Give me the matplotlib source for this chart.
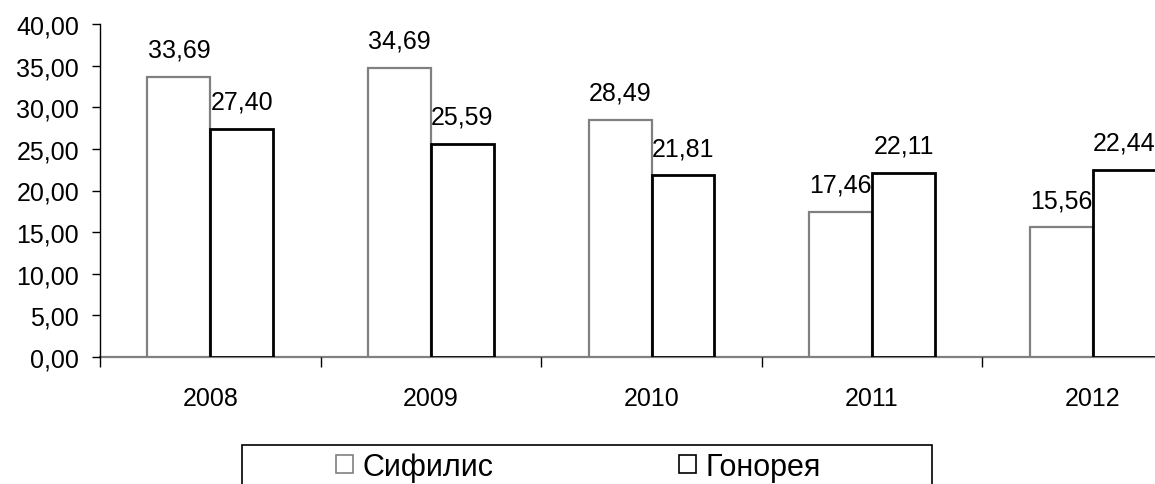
import numpy as np
import matplotlib
matplotlib.use("Agg")
import matplotlib.pyplot as plt
from matplotlib.patches import Rectangle
from matplotlib.ticker import FixedLocator, FuncFormatter

plt.rcParams['font.family'] = ['Liberation Sans', 'DejaVu Sans']

years = ['2008', '2009', '2010', '2011', '2012']
sifilis = [33.69, 34.69, 28.49, 17.46, 15.56]
gonoreya = [27.40, 25.59, 21.81, 22.11, 22.44]
series_names = ['Сифилис', 'Гонорея']

def fmt(v):
    return f"{v:.2f}".replace('.', ',')

W, H = 1155, 485
fig = plt.figure(figsize=(W / 100, H / 100), dpi=100)
ax = fig.add_axes([100 / W, 127 / H, 1103 / W, 333 / H])

x = np.arange(len(years))
w = 0.285
b1 = ax.bar(x - w / 2, sifilis, w, facecolor='white', edgecolor='#808080',
            linewidth=1.6, label=series_names[0], zorder=2)
b2 = ax.bar(x + w / 2, gonoreya, w, facecolor='white', edgecolor='black',
            linewidth=2.0, label=series_names[1], zorder=3)

for bars, vals in ((b1, sifilis), (b2, gonoreya)):
    for r, v in zip(bars, vals):
        ax.annotate(fmt(v), (r.get_x() + r.get_width() / 2, v),
                    xytext=(0, 11), textcoords='offset points',
                    ha='center', va='bottom', fontsize=18, zorder=5)

ax.set_xlim(-0.5, len(years) - 0.5)
ax.set_ylim(0, 40)
ax.yaxis.set_major_locator(FixedLocator(np.arange(0, 41, 5)))
ax.yaxis.set_major_formatter(FuncFormatter(lambda v, p: fmt(v)))
ax.tick_params(axis='y', direction='out', length=6, width=1, labelsize=18, pad=9)

# category boundaries get tick marks, year labels sit in between
ax.xaxis.set_major_locator(FixedLocator(np.arange(-0.5, len(years), 1.0)))
ax.xaxis.set_major_formatter(FuncFormatter(lambda v, p: ''))
ax.xaxis.set_minor_locator(FixedLocator(x))
ax.set_xticklabels(years, minor=True)
ax.tick_params(axis='x', which='major', direction='out', length=7, width=1)
ax.tick_params(axis='x', which='minor', length=0, labelsize=18, pad=21)

for s in ('top', 'right'):
    ax.spines[s].set_visible(False)
ax.spines['left'].set_color('black')
ax.spines['left'].set_linewidth(1)
ax.spines['bottom'].set_color('#808080')
ax.spines['bottom'].set_linewidth(1.6)
ax.spines['bottom'].set_zorder(1)

# legend entries without their own frame, box drawn separately
leg = fig.legend(handles=[b1, b2], labels=series_names, ncol=2,
                 loc='upper left', bbox_to_anchor=(336 / W, 1 - 453 / H),
                 frameon=False, fontsize=22,
                 handlelength=0.55, handleheight=0.55,
                 handletextpad=0.33, columnspacing=6.05,
                 borderpad=0, borderaxespad=0)
for hnd in leg.legend_handles:
    hnd.set_linewidth(1.2)
fig.patches.append(Rectangle((242 / W, -0.05), 690 / W, 0.05 + 1 - 446 / H,
                             transform=fig.transFigure, facecolor='none',
                             edgecolor='black', linewidth=1.2))

fig.savefig('out.png', dpi=100)
